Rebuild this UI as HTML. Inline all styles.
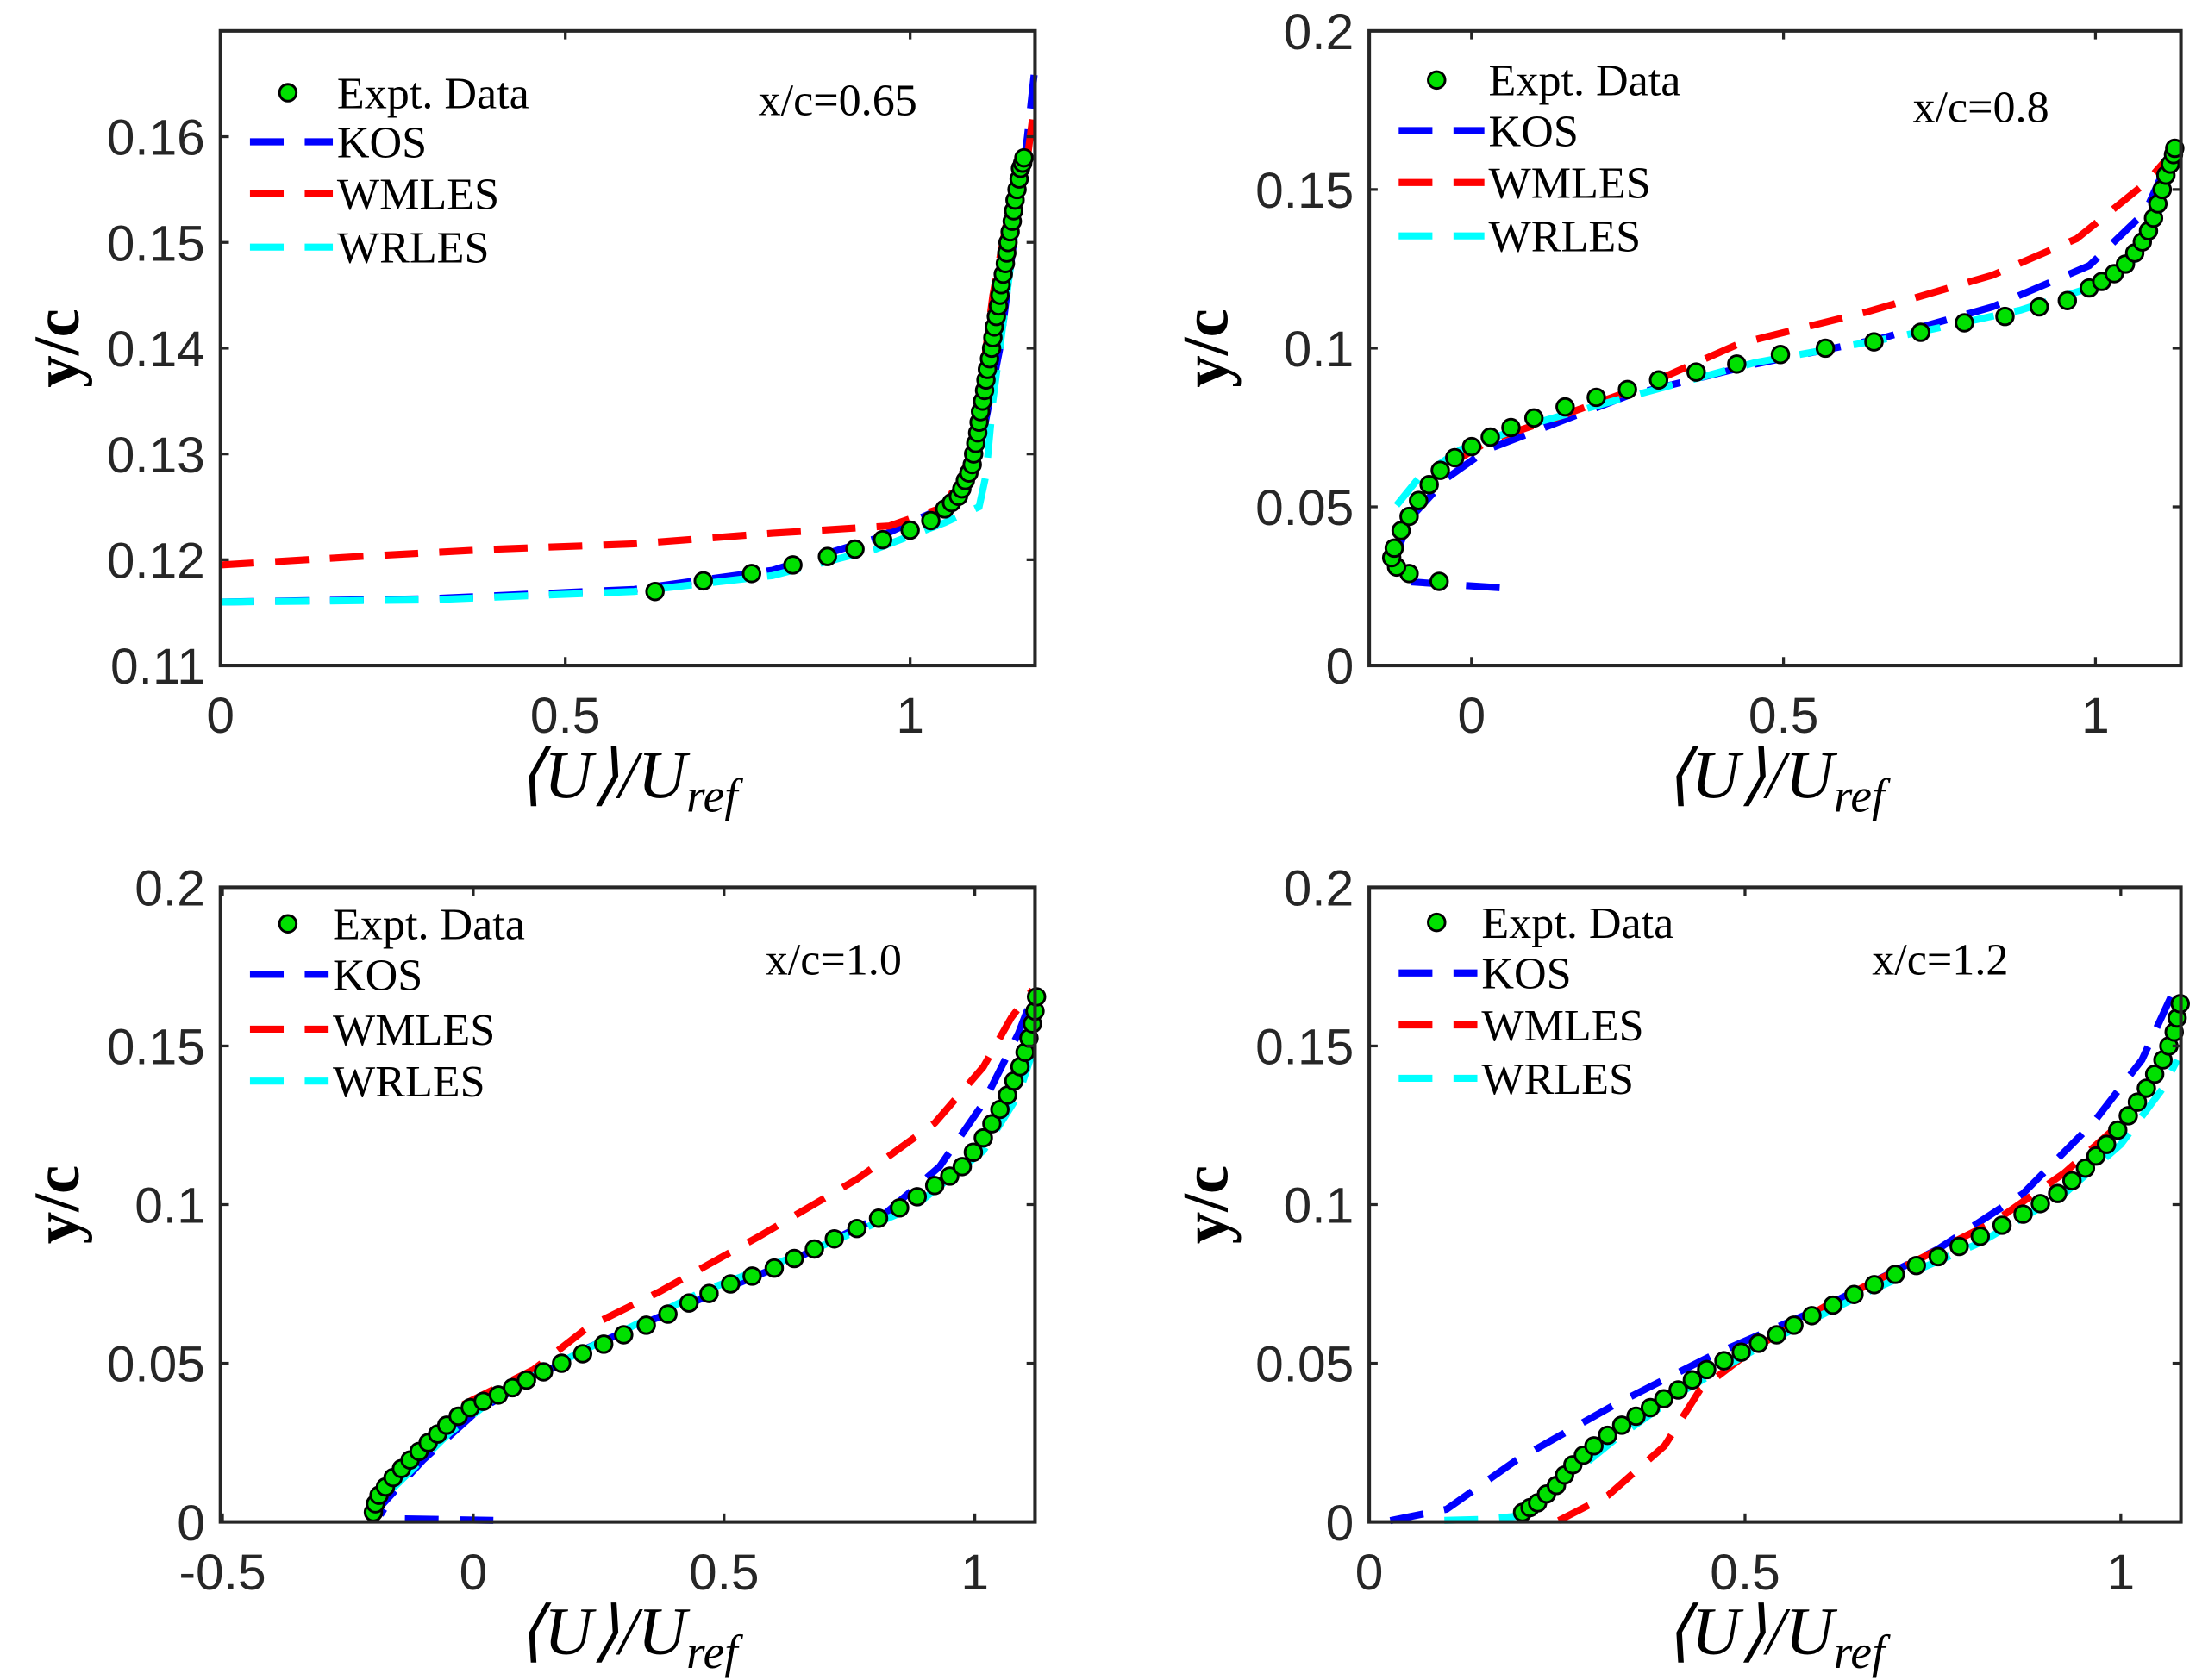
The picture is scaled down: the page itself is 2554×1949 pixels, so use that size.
<!DOCTYPE html>
<html><head><meta charset="utf-8"><style>
html,body{margin:0;padding:0;background:#fff;}
svg{display:block;}
</style></head><body>
<svg id="fig" xmlns="http://www.w3.org/2000/svg" width="2554" height="1949" viewBox="0 0 1568 1196.6" preserveAspectRatio="none"></svg>
<script>
// Panel 1: x/c=0.65
const p1ExpX=[0.63,0.70,0.77,0.83,0.88,0.92,0.96,1.0,1.03,1.05,1.06,1.07,1.075,1.08,1.085,1.09,1.092,1.095,1.098,1.10,1.102,1.105,1.108,1.11,1.112,1.115,1.118,1.12,1.122,1.125,1.128,1.13,1.132,1.135,1.138,1.14,1.142,1.145,1.148,1.15,1.152,1.155,1.158,1.16,1.163,1.165];
const p1ExpY=[0.117,0.118,0.1187,0.1195,0.1203,0.121,0.1219,0.1228,0.1237,0.1248,0.1254,0.126,0.1267,0.1275,0.1282,0.129,0.130,0.131,0.132,0.133,0.134,0.135,0.136,0.137,0.138,0.139,0.140,0.141,0.142,0.143,0.144,0.145,0.146,0.147,0.148,0.149,0.150,0.151,0.152,0.153,0.154,0.155,0.156,0.157,0.1575,0.158];
const p1KosX=[0,0.3,0.6,0.8,0.95,1.05,1.1,1.13,1.15,1.17,1.18];
const p1KosY=[0.116,0.1163,0.1172,0.119,0.122,0.125,0.13,0.14,0.15,0.16,0.166];
const p1WmX=[0,0.2,0.4,0.6,0.8,0.97,1.05,1.09,1.1,1.12,1.14,1.17,1.18];
const p1WmY=[0.1195,0.1203,0.121,0.1215,0.1225,0.1232,0.125,0.13,0.135,0.145,0.152,0.158,0.163];
const p1WrX=[0,0.3,0.6,0.8,0.95,1.05,1.1,1.11,1.12,1.14,1.15,1.16];
const p1WrY=[0.116,0.1162,0.117,0.1185,0.121,0.1235,0.125,0.128,0.135,0.145,0.15,0.156];
// Panel 2: x/c=0.8
const p2ExpX=[-0.052,-0.10,-0.12,-0.128,-0.124,-0.113,-0.10,-0.085,-0.068,-0.05,-0.027,0,0.03,0.063,0.1,0.15,0.2,0.25,0.3,0.36,0.425,0.495,0.567,0.645,0.72,0.79,0.855,0.91,0.955,0.99,1.01,1.03,1.048,1.063,1.075,1.085,1.093,1.10,1.107,1.113,1.12,1.125,1.127];
const p2ExpY=[0.0265,0.029,0.031,0.034,0.037,0.0425,0.047,0.052,0.057,0.0615,0.0655,0.069,0.072,0.075,0.078,0.0815,0.0845,0.087,0.09,0.0925,0.095,0.098,0.1,0.102,0.105,0.108,0.11,0.113,0.115,0.119,0.121,0.1235,0.1265,0.13,0.1335,0.137,0.141,0.1455,0.15,0.1545,0.158,0.161,0.163];
const p2KosX=[0.045,-0.11,-0.12,-0.10,-0.04,0.025,0.117,0.25,0.455,0.655,0.835,0.99,1.08,1.13];
const p2KosY=[0.0245,0.0265,0.035,0.046,0.059,0.068,0.075,0.085,0.095,0.103,0.113,0.126,0.143,0.165];
const p2WmX=[-0.03,0.03,0.12,0.275,0.43,0.635,0.835,0.97,1.08,1.125];
const p2WmY=[0.064,0.071,0.077,0.088,0.1015,0.1115,0.123,0.1345,0.152,0.162];
const p2WrX=[-0.12,-0.085,-0.018,0.095,0.23,0.455,0.68,0.88,0.99,1.063,1.108,1.13];
const p2WrY=[0.0505,0.059,0.068,0.076,0.0835,0.0955,0.1035,0.112,0.119,0.128,0.1455,0.161];
// Panel 3: x/c=1.0
const p3ExpX=[-0.199,-0.195,-0.188,-0.175,-0.16,-0.143,-0.126,-0.108,-0.09,-0.071,-0.053,-0.03,-0.006,0.02,0.05,0.078,0.106,0.14,0.176,0.218,0.26,0.3,0.345,0.388,0.43,0.47,0.513,0.556,0.6,0.64,0.68,0.72,0.765,0.808,0.85,0.885,0.92,0.95,0.975,0.997,1.017,1.034,1.05,1.065,1.078,1.09,1.10,1.108,1.115,1.12,1.123];
const p3ExpY=[0.003,0.0057,0.0084,0.011,0.014,0.0168,0.0195,0.0222,0.025,0.0277,0.0305,0.0333,0.036,0.038,0.040,0.0423,0.0447,0.0473,0.050,0.053,0.056,0.059,0.062,0.0655,0.069,0.072,0.075,0.0775,0.080,0.083,0.086,0.0892,0.0925,0.0957,0.099,0.1025,0.106,0.109,0.112,0.1165,0.121,0.1255,0.130,0.1345,0.139,0.1435,0.148,0.1525,0.157,0.161,0.1655];
const p3KosX=[0.04,-0.16,-0.19,-0.10,0.008,0.23,0.457,0.625,0.82,0.93,1.017,1.087,1.115];
const p3KosY=[0.0005,0.001,0.004,0.0195,0.035,0.055,0.0705,0.0815,0.097,0.112,0.132,0.154,0.1655];
const p3WmX=[-0.02,0.12,0.23,0.372,0.57,0.765,0.92,1.017,1.073,1.115];
const p3WmY=[0.037,0.048,0.0615,0.0726,0.090,0.108,0.1257,0.1434,0.159,0.1677];
const p3WrX=[-0.16,-0.048,0.064,0.232,0.457,0.68,0.876,1.017,1.087,1.115];
const p3WrY=[0.0106,0.028,0.0416,0.055,0.0726,0.086,0.099,0.117,0.1345,0.148];
// Panel 4: x/c=1.2
const p4ExpX=[0.204,0.214,0.224,0.236,0.249,0.26,0.271,0.285,0.299,0.317,0.336,0.355,0.374,0.392,0.411,0.43,0.449,0.472,0.495,0.518,0.542,0.565,0.589,0.617,0.645,0.672,0.70,0.728,0.757,0.785,0.813,0.842,0.87,0.893,0.916,0.935,0.953,0.967,0.981,0.996,1.01,1.022,1.034,1.045,1.056,1.064,1.071,1.075,1.079];
const p4ExpY=[0.003,0.0045,0.006,0.0088,0.0115,0.0148,0.018,0.021,0.024,0.0273,0.0305,0.0333,0.036,0.0388,0.0416,0.0448,0.048,0.0508,0.0535,0.0563,0.059,0.062,0.065,0.0683,0.0717,0.0748,0.078,0.0808,0.0836,0.0868,0.090,0.0935,0.097,0.1003,0.1035,0.1075,0.1115,0.1153,0.119,0.1235,0.128,0.1323,0.1367,0.1411,0.1456,0.15,0.1544,0.1588,0.1633];
const p4KosX=[0.028,0.103,0.196,0.327,0.458,0.607,0.757,0.87,0.963,1.028,1.071];
const p4KosY=[0.0004,0.004,0.0195,0.037,0.0527,0.068,0.086,0.1035,0.1257,0.1456,0.1677];
const p4WmX=[0.252,0.318,0.393,0.44,0.514,0.607,0.72,0.832,0.925,1.0,1.047,1.075];
const p4WmY=[0.0004,0.0084,0.024,0.0416,0.055,0.068,0.0814,0.0947,0.110,0.1257,0.139,0.1544];
const p4WrX=[0.10,0.15,0.206,0.252,0.327,0.42,0.533,0.664,0.813,0.925,1.0,1.056,1.075];
const p4WrY=[0.0005,0.0008,0.002,0.0115,0.026,0.0416,0.057,0.0726,0.088,0.1035,0.119,0.1367,0.1456];
// Tick labels
const p1XTicks=[0,0.5,1], p1XLabels=["0","0.5","1"];
const p1YTicks=[0.11,0.12,0.13,0.14,0.15,0.16], p1YLabels=["0.11","0.12","0.13","0.14","0.15","0.16"];
const p2XTicks=[0,0.5,1], p2XLabels=["0","0.5","1"];
const yTicks2=[0,0.05,0.1,0.15,0.2], yLabels2=["0","0.05","0.1","0.15","0.2"];
const p3XTicks=[-0.5,0,0.5,1], p3XLabels=["-0.5","0","0.5","1"];
const p4XTicks=[0,0.5,1], p4XLabels=["0","0.5","1"];

const NS="http://www.w3.org/2000/svg";
const svg=document.getElementById('fig');
function mk(tag,attrs,parent){const e=document.createElementNS(NS,tag);for(const k in attrs)e.setAttribute(k,attrs[k]);(parent||svg).appendChild(e);return e;}

const panels=[
 {id:'p1',box:[157,22,737,474],xl:[0,1.181],yl:[0.11,0.17],xt:p1XTicks,xtl:p1XLabels,yt:p1YTicks,ytl:p1YLabels,
  exp:[p1ExpX,p1ExpY],kos:[p1KosX,p1KosY],wm:[p1WmX,p1WmY],wr:[p1WrX,p1WrY],leg:[44,79,116,154],tx:83,ann:'x/c=0.65',ax:383,ay:60},
 {id:'p2',box:[975,22,1553,474],xl:[-0.164,1.137],yl:[0,0.2],xt:p2XTicks,xtl:p2XLabels,yt:yTicks2,ytl:yLabels2,
  exp:[p2ExpX,p2ExpY],kos:[p2KosX,p2KosY],wm:[p2WmX,p2WmY],wr:[p2WrX,p2WrY],leg:[35,71,108,146],tx:85,ann:'x/c=0.8',ax:387,ay:65},
 {id:'p3',box:[157,632,737,1084],xl:[-0.504,1.12],yl:[0,0.2],xt:p3XTicks,xtl:p3XLabels,yt:yTicks2,ytl:yLabels2,
  exp:[p3ExpX,p3ExpY],kos:[p3KosX,p3KosY],wm:[p3WmX,p3WmY],wr:[p3WrX,p3WrY],leg:[26,62,101,138],tx:80,ann:'x/c=1.0',ax:388,ay:62},
 {id:'p4',box:[975,632,1553,1084],xl:[0,1.08],yl:[0,0.2],xt:p4XTicks,xtl:p4XLabels,yt:yTicks2,ytl:yLabels2,
  exp:[p4ExpX,p4ExpY],kos:[p4KosX,p4KosY],wm:[p4WmX,p4WmY],wr:[p4WrX,p4WrY],leg:[25,61,98,136],tx:80,ann:'x/c=1.2',ax:358,ay:62}
];
const AX='#262626';
const sans='"Liberation Sans", sans-serif', serif='"Liberation Serif", serif';
panels.forEach(P=>{
  const [L,T,R,B]=P.box;
  const g=mk('g',{});
  
  
  const sx=v=>L+(v-P.xl[0])/(P.xl[1]-P.xl[0])*(R-L);
  const sy=v=>B-(v-P.yl[0])/(P.yl[1]-P.yl[0])*(B-T);
  const cp=mk('clipPath',{id:'c'+P.id},g); mk('rect',{x:L-8,y:T,width:R-L+16,height:B-T+8},cp);
  const plot=mk('g',{'clip-path':'url(#c'+P.id+')'},g);
  const line=(d,col,name)=>{
    const pts=d[0].map((x,i)=>sx(x).toFixed(1)+','+sy(d[1][i]).toFixed(1)).join(' ');
    const pl=mk('polyline',{points:pts,fill:'none',stroke:col,'stroke-width':5,'stroke-dasharray':'24 15'},plot);
    
    
  };
  line(P.kos,'#0000ff','kos');
  line(P.wm,'#ff0000','wmles');
  line(P.wr,'#00ffff','wrles');
  P.exp[0].forEach((x,i)=>{
    const c=mk('circle',{cx:sx(x).toFixed(1),cy:sy(P.exp[1][i]).toFixed(1),r:6,fill:'#00e000',stroke:'#000','stroke-width':1.8},plot);
    
    
  });
  const bx=mk('rect',{x:L,y:T,width:R-L,height:B-T,fill:'none',stroke:AX,'stroke-width':2.5},g);
  
  
  P.xt.forEach((v,i)=>{
    const x=sx(v);
    mk('line',{x1:x,y1:B,x2:x,y2:B-6,stroke:AX,'stroke-width':2},g);
    mk('line',{x1:x,y1:T,x2:x,y2:T+6,stroke:AX,'stroke-width':2},g);
    const t=mk('text',{x:x,y:B+48,'text-anchor':'middle','font-family':sans,'font-size':36,fill:AX},g);
    t.textContent=P.xtl[i];
    
    
  });
  P.yt.forEach((v,i)=>{
    const y=sy(v);
    mk('line',{x1:L,y1:y,x2:L+6,y2:y,stroke:AX,'stroke-width':2},g);
    mk('line',{x1:R,y1:y,x2:R-6,y2:y,stroke:AX,'stroke-width':2},g);
    const t=mk('text',{x:L-11,y:y+13,'text-anchor':'end','font-family':sans,'font-size':36,fill:AX},g);
    t.textContent=P.ytl[i];
    
    
  });
  const xlab=mk('text',{x:(L+R)/2,y:B+94,'text-anchor':'middle','font-family':serif,'font-size':48,'font-style':'italic',fill:'#000'},g);
  xlab.innerHTML='⟨U⟩/U<tspan font-size="34" dy="10">ref</tspan>';
  
  
  const yc=(T+B)/2, yx=L-101;
  const ylab=mk('text',{x:yx,y:yc,'text-anchor':'middle','font-family':serif,'font-size':46,'font-weight':'bold',fill:'#000',transform:'rotate(-90 '+yx+' '+yc+')'},g);
  ylab.textContent='y/c';
  
  
  const lg=mk('g',{},g);
  
  
  mk('circle',{cx:L+48,cy:T+P.leg[0],r:6,fill:'#00e000',stroke:'#000','stroke-width':1.8},lg);
  const lt=(txt,row,name)=>{
    const t=mk('text',{x:L+P.tx,y:T+P.leg[row]+11,'font-family':serif,'font-size':32,fill:'#000'},lg);
    t.textContent=txt;
    
    
  };
  lt('Expt.  Data',0,'expt');
  [['#0000ff','KOS','kos'],['#ff0000','WMLES','wmles'],['#00ffff','WRLES','wrles']].forEach((a,i)=>{
    const y=T+P.leg[i+1];
    mk('line',{x1:L+21,y1:y,x2:L+P.tx-3,y2:y,stroke:a[0],'stroke-width':5,'stroke-dasharray':'24 15'},lg);
    lt(a[1],i+1,a[2]);
  });
  const an=mk('text',{x:L+P.ax,y:T+P.ay,'font-family':serif,'font-size':32,fill:'#000'},g);
  an.textContent=P.ann;
  
  
});
</script>
</body></html>
